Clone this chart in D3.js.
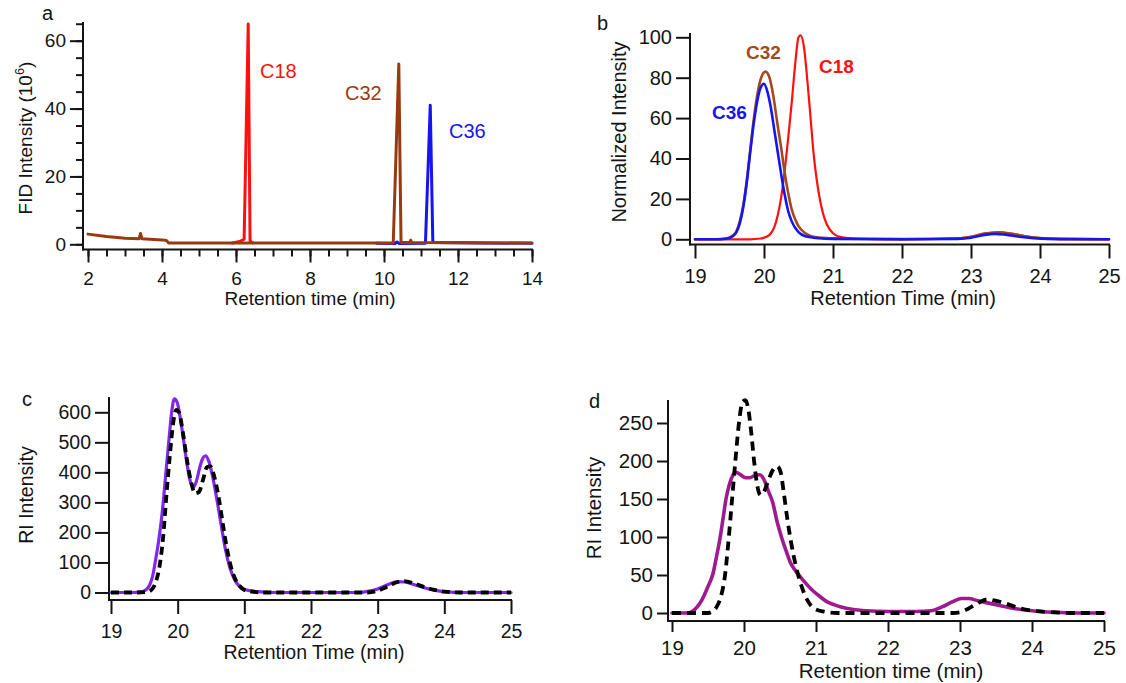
<!DOCTYPE html>
<html>
<head>
<meta charset="utf-8">
<script src="https://cdn.jsdelivr.net/npm/d3@7"></script>
<style>
  body { margin: 0; background: #fff; }
  svg { display: block; }
  text { font-family: "Liberation Sans", Arial, Helvetica, sans-serif; }
</style>
</head>
<body>
<svg id="chart" width="1126" height="683"></svg>
<script>
// ---------------- DATA ----------------
// Panel a: FID intensity (10^6) vs retention time (min)
const aC18 = [[5.9,0.4],[6.1,0.8],[6.22,1.5],[6.33,64.9],[6.38,1],[6.45,0.4]];
const aC36 = [[9.8,0.3],[10.3,0.2],[10.35,0.7],[10.42,0.2],[11.12,0.3],[11.25,41],[11.32,0.5],[14,0.3]];
const aC32 = [[2,3.0],[2.5,2.3],[3,1.8],[3.38,1.6],[3.42,3.2],[3.46,1.6],[4.0,1.3],[4.12,1.1],[4.18,0.4],[6,0.4],
              [10.25,0.4],[10.4,53.1],[10.46,0.5],[10.7,0.5],[10.72,1.2],[10.75,0.5],[14,0.4]];
const aXTicks = [2,4,6,8,10,12,14];
const aYTicks = [0,20,40,60];

// Panel b: normalized intensity
const bC36 = [[19,0],[19.3,0],[19.45,0.3],[19.55,1.5],[19.6,3.5],[19.65,8],[19.7,16],[19.75,28],[19.8,43],[19.85,57],
  [19.9,68],[19.95,75],[20.0,77],[20.05,73],[20.1,65],[20.15,54],[20.2,43],[20.25,32],[20.3,22],[20.35,14],[20.4,9],
  [20.5,3.5],[20.6,1.5],[20.8,0.5],[21,0.2],[22,0],[22.8,0.2],[23.0,0.8],[23.1,1.5],[23.2,2.2],[23.35,2.7],[23.5,2.3],
  [23.7,1.3],[23.9,0.6],[24.2,0.2],[25,0]];
const bC32 = [[19,0],[19.3,0],[19.45,0.4],[19.55,2],[19.6,4],[19.65,9],[19.7,17],[19.75,29],[19.8,44],[19.85,59],
  [19.9,71],[19.95,79],[20.02,83],[20.08,80],[20.13,72],[20.2,56],[20.25,45],[20.3,33],[20.35,23],[20.4,15],[20.45,10],
  [20.5,6.5],[20.6,3],[20.7,1.4],[20.9,0.6],[21.2,0.3],[22,0.1],[22.8,0.4],[23.0,1.3],[23.2,2.8],[23.4,3.4],[23.6,2.6],
  [23.8,1.4],[24.0,0.6],[24.4,0.1],[25,0]];
const bC18 = [[19,0],[19.8,0],[19.95,0.4],[20.05,1.5],[20.1,3],[20.15,6],[20.2,12],[20.25,21],[20.3,34],[20.35,50],
  [20.4,67],[20.45,86],[20.5,100],[20.53,101],[20.58,95],[20.63,78],[20.68,58],[20.72,42],[20.77,28],[20.82,18],
  [20.88,10],[20.95,5],[21.0,3],[21.1,1.2],[21.3,0.4],[21.6,0.1],[22,0],[22.8,0.4],[23.0,1.2],[23.2,2.8],[23.4,3.6],
  [23.6,2.8],[23.8,1.5],[24,0.6],[24.4,0.1],[25,0]];
const bXTicks = [19,20,21,22,23,24,25];
const bYTicks = [0,20,40,60,80,100];

// Panel c: RI intensity
const cSolid = [[19,0],[19.3,0],[19.45,2],[19.52,8],[19.58,25],[19.63,60],[19.67,110],[19.72,180],[19.77,270],
  [19.82,390],[19.87,510],[19.91,600],[19.95,645],[19.99,635],[20.04,580],[20.1,490],[20.15,415],[20.2,362],
  [20.24,352],[20.28,370],[20.33,415],[20.38,448],[20.42,455],[20.47,435],[20.53,380],[20.6,295],[20.66,215],
  [20.72,140],[20.78,85],[20.85,45],[20.92,22],[21.0,10],[21.2,3],[21.5,0],[22.7,0],[22.85,4],[23.0,12],[23.15,26],
  [23.3,36],[23.4,35],[23.55,26],[23.7,16],[23.85,8],[24.0,3],[24.3,0],[25,0]];
const cDash = [[19,0],[19.4,0],[19.55,2],[19.62,12],[19.68,40],[19.73,90],[19.78,180],[19.83,320],[19.88,450],
  [19.93,560],[19.98,608],[20.02,600],[20.08,530],[20.14,440],[20.2,370],[20.26,330],[20.32,335],[20.38,375],
  [20.44,418],[20.49,420],[20.55,385],[20.62,310],[20.68,225],[20.74,145],[20.8,85],[20.87,42],[20.95,17],[21.05,5],
  [21.3,0],[22.85,0],[23.0,6],[23.15,20],[23.3,35],[23.4,38],[23.55,30],[23.7,18],[23.85,9],[24.0,3],[24.3,0],[25,0]];
const cXTicks = [19,20,21,22,23,24,25];
const cYTicks = [0,100,200,300,400,500,600];

// Panel d: RI intensity
const dSolid = [[19,0],[19.2,0],[19.28,2],[19.35,8],[19.42,18],[19.5,35],[19.57,52],[19.62,75],[19.67,100],[19.71,125],
  [19.75,150],[19.8,170],[19.85,182],[19.89,185],[19.95,182],[20.02,178],[20.08,178],[20.15,181],[20.22,182],[20.28,175],
  [20.34,160],[20.4,145],[20.46,120],[20.52,100],[20.58,83],[20.65,65],[20.72,55],[20.78,48],[20.85,40],[20.95,30],
  [21.05,22],[21.15,15],[21.25,11],[21.35,8],[21.5,5],[21.7,3],[22,2],[22.4,2],[22.6,3],[22.75,8],[22.9,15],[23.02,19],
  [23.12,19],[23.25,16],[23.4,13],[23.55,10],[23.75,6],[24.0,3],[24.3,1],[24.6,0],[25,0]];
const dDash = [[19,0],[19.5,0],[19.56,2],[19.62,8],[19.68,22],[19.73,45],[19.78,90],[19.83,145],[19.88,200],[19.93,250],
  [19.98,278],[20.02,280],[20.06,268],[20.1,238],[20.14,200],[20.18,170],[20.23,155],[20.28,160],[20.34,175],[20.4,188],
  [20.46,193],[20.51,185],[20.55,160],[20.6,125],[20.65,95],[20.72,62],[20.8,35],[20.88,17],[20.96,7],[21.1,2],[21.3,0],
  [22.9,0],[23.0,1],[23.12,6],[23.25,13],[23.38,18],[23.5,16],[23.65,12],[23.8,7],[24.0,3],[24.3,1],[24.6,0],[25,0]];
const dXTicks = [19,20,21,22,23,24,25];
const dYTicks = [0,50,100,150,200,250];

// ---------------- DRAWING ----------------
const svg = d3.select("#chart");
const RED = "#ff1010", BROWN_A = "#983a10", BROWN_B = "#a24a1e", BLUE = "#1515f0";
const PURPLE = "#8028ea", MAGENTA = "#9e1a8e";
const INK = "#141414";

function panel(p) {
  const g = svg.append("g");
  const x = d3.scaleLinear().domain(p.xDomain).range(p.xRange);
  const y = d3.scaleLinear().domain(p.yDomain).range(p.yRange);
  const fmt = d3.format("d");

  // minor ticks
  if (p.xMinor) {
    g.append("g").attr("transform", `translate(0,${p.axisY})`)
      .call(d3.axisBottom(x).tickValues(p.xMinor).tickSize(p.minorLen).tickFormat("").tickSizeOuter(0))
      .call(s => s.select(".domain").remove())
      .call(s => s.selectAll("line").attr("stroke", INK).attr("stroke-width", 2));
  }
  if (p.yMinor) {
    g.append("g").attr("transform", `translate(${p.axisX},0)`)
      .call(d3.axisLeft(y).tickValues(p.yMinor).tickSize(p.minorLen).tickFormat("").tickSizeOuter(0))
      .call(s => s.select(".domain").remove())
      .call(s => s.selectAll("line").attr("stroke", INK).attr("stroke-width", 2));
  }
  // major ticks
  const xa = g.append("g").attr("transform", `translate(0,${p.axisY})`)
    .call(d3.axisBottom(x).tickValues(p.xTicks).tickFormat(fmt).tickSize(p.tickLen).tickPadding(p.xPad).tickSizeOuter(0));
  const ya = g.append("g").attr("transform", `translate(${p.axisX},0)`)
    .call(d3.axisLeft(y).tickValues(p.yTicks).tickFormat(fmt).tickSize(p.tickLen).tickPadding(p.yPad).tickSizeOuter(0));
  [xa, ya].forEach(a => {
    a.select(".domain").remove();
    a.selectAll("line").attr("stroke", INK).attr("stroke-width", 2);
    a.selectAll("text").attr("font-size", p.fs).style("fill", INK)
      .attr("font-family", '"Liberation Sans", Arial, Helvetica, sans-serif');
  });
  // axis lines
  g.append("line").attr("x1", p.axisX).attr("x2", p.axisX).attr("y1", p.axisTop).attr("y2", p.axisY + 1)
    .attr("stroke", INK).attr("stroke-width", 2);
  g.append("line").attr("x1", p.axisX - 1).attr("x2", x(p.xDomain[1]) + 1).attr("y1", p.axisY).attr("y2", p.axisY)
    .attr("stroke", INK).attr("stroke-width", 2);

  // series
  p.series.forEach(s => {
    const line = d3.line().x(d => x(d[0])).y(d => y(d[1])).curve(s.curve || d3.curveMonotoneX);
    g.append("path").datum(s.data).attr("d", line).attr("fill", "none")
      .attr("stroke", s.color).attr("stroke-width", s.width)
      .attr("stroke-dasharray", s.dash || null)
      .attr("stroke-linejoin", "round").attr("stroke-linecap", s.dash ? "butt" : "round");
  });

  // titles
  g.append("text").attr("x", p.xTitle[0]).attr("y", p.xTitle[1]).attr("text-anchor", "middle")
    .attr("dominant-baseline", "middle").attr("font-size", p.tfs).style("fill", INK).text(p.xLabel);
  const yt = g.append("text").attr("transform", `translate(${p.yTitle[0]},${p.yTitle[1]}) rotate(-90)`)
    .attr("text-anchor", "middle").attr("dominant-baseline", "middle").attr("font-size", p.tfs).style("fill", INK);
  p.yLabel.forEach(part => {
    const t = yt.append("tspan").text(part.t);
    if (part.sup) t.attr("font-size", "0.68em").attr("dy", "-0.5em");
    if (part.after) t.attr("dy", "0.34em");
  });
  g.append("text").attr("x", p.letter[0]).attr("y", p.letter[1]).attr("dominant-baseline", "middle")
    .attr("font-size", 20).style("fill", INK).text(p.letter[2]);
  (p.notes || []).forEach(n => {
    g.append("text").attr("x", n.x).attr("y", n.y).attr("dominant-baseline", "middle")
      .attr("font-size", n.fs).attr("font-weight", n.bold ? "bold" : "normal").style("fill", n.color).text(n.t);
  });
}

const range = (a, b, s) => d3.range(Math.round((b - a) / s) + 1).map(i => +(a + i * s).toFixed(3));

panel({
  xDomain: [2, 14], xRange: [88, 532], yDomain: [0, 60], yRange: [244.3, 40.7],
  axisX: 83, axisY: 249.5, axisTop: 22, tickLen: 13, minorLen: 7, xPad: 9, yPad: 4, fs: 19, tfs: 19,
  xTicks: aXTicks, yTicks: aYTicks,
  xMinor: range(2, 14, 0.5), yMinor: range(0, 65, 5),
  xTitle: [310, 300], yTitle: [27, 138], xLabel: "Retention time (min)",
  yLabel: [{t: "FID Intensity (10"}, {t: "6", sup: true}, {t: ")", after: true}],
  letter: [42, 15, "a"],
  series: [
    {data: aC18, color: RED, width: 3, curve: d3.curveLinear},
    {data: aC36, color: BLUE, width: 3, curve: d3.curveLinear},
    {data: aC32, color: BROWN_A, width: 3, curve: d3.curveLinear}
  ],
  notes: [
    {t: "C18", x: 260, y: 73, fs: 20, color: RED},
    {t: "C32", x: 345, y: 95, fs: 20, color: BROWN_A},
    {t: "C36", x: 449, y: 133, fs: 20, color: BLUE}
  ]
});

panel({
  xDomain: [19, 25], xRange: [695, 1109], yDomain: [0, 100], yRange: [239.3, 37.3],
  axisX: 690, axisY: 244.5, axisTop: 33, tickLen: 14, xPad: 10, yPad: 4, fs: 20, tfs: 20,
  xTicks: bXTicks, yTicks: bYTicks,
  xTitle: [903, 300], yTitle: [621, 132], xLabel: "Retention Time (min)",
  yLabel: [{t: "Normalized Intensity"}],
  letter: [597, 25, "b"],
  series: [
    {data: bC18, color: RED, width: 2.2},
    {data: bC32, color: BROWN_B, width: 2.6},
    {data: bC36, color: BLUE, width: 2.6}
  ],
  notes: [
    {t: "C32", x: 746, y: 54, fs: 19, bold: true, color: BROWN_B},
    {t: "C18", x: 819, y: 68, fs: 19, bold: true, color: RED},
    {t: "C36", x: 712, y: 114, fs: 19, bold: true, color: BLUE}
  ]
});

panel({
  xDomain: [19, 25], xRange: [111, 511], yDomain: [0, 600], yRange: [592.5, 412.3],
  axisX: 109, axisY: 600, axisTop: 397, tickLen: 14, xPad: 10, yPad: 4, fs: 19.5, tfs: 19.5,
  xTicks: cXTicks, yTicks: cYTicks,
  xTitle: [314, 654], yTitle: [28, 495], xLabel: "Retention Time (min)",
  yLabel: [{t: "RI Intensity"}],
  letter: [22, 401, "c"],
  series: [
    {data: cSolid, color: PURPLE, width: 3.2},
    {data: cDash, color: "#000", width: 3.8, dash: "8,5"}
  ]
});

panel({
  xDomain: [19, 25], xRange: [672, 1104], yDomain: [0, 250], yRange: [613, 423],
  axisX: 668, axisY: 621, axisTop: 400, tickLen: 11, xPad: 8, yPad: 4, fs: 20.5, tfs: 20.5,
  xTicks: dXTicks, yTicks: dYTicks,
  xTitle: [891, 673], yTitle: [596, 508], xLabel: "Retention time (min)",
  yLabel: [{t: "RI Intensity"}],
  letter: [589, 403, "d"],
  series: [
    {data: dSolid, color: MAGENTA, width: 3.6},
    {data: dDash, color: "#000", width: 3.8, dash: "9,6"}
  ]
});
</script>
</body>
</html>
